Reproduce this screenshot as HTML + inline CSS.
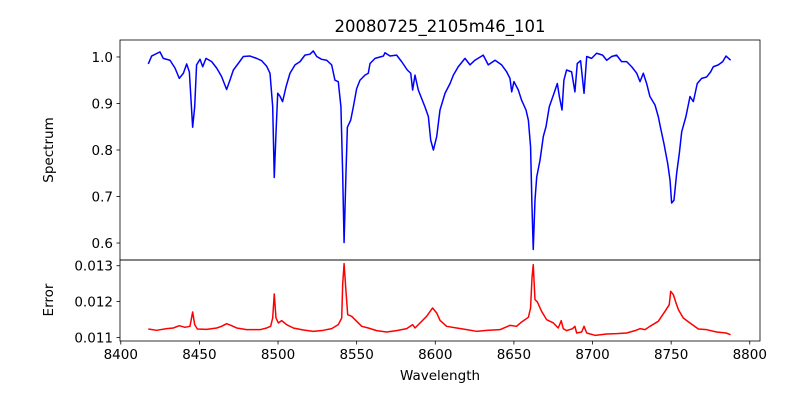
<!DOCTYPE html>
<html><head><meta charset="utf-8"><style>
html,body{margin:0;padding:0;background:#fff;}
svg{display:block;font-family:"DejaVu Sans","Liberation Sans",sans-serif;}
</style></head><body>
<svg id="chart" width="800" height="400" viewBox="0 0 800 400">
<rect width="800" height="400" fill="#fff"/>
<text x="440" y="32" text-anchor="middle" font-size="16.5">20080725_2105m46_101</text>
<text transform="translate(53,150) rotate(-90)" text-anchor="middle" font-size="13.5">Spectrum</text>
<text transform="translate(53,300) rotate(-90)" text-anchor="middle" font-size="13.5">Error</text>
<text x="440" y="380" text-anchor="middle" font-size="13.5">Wavelength</text>
<g id="topg"></g><g id="botg"></g><g id="xt"></g>
</svg>
<script>
const specWave=[8417.5,8419.6,8424.9,8427.0,8431.3,8434.5,8437.2,8439.8,8441.9,8443.6,8445.7,8447.0,8448.2,8450.4,8452.1,8454.2,8457.8,8461.0,8464.1,8467.3,8469.4,8471.6,8474.7,8477.9,8482.2,8486.4,8489.6,8492.8,8494.9,8496.6,8497.6,8498.7,8499.8,8501.2,8502.9,8505.1,8507.6,8510.8,8514.0,8517.1,8520.3,8522.4,8524.6,8527.7,8530.9,8534.1,8536.2,8538.3,8540.0,8541.1,8542.0,8543.2,8544.1,8546.2,8547.9,8550.0,8552.1,8555.3,8557.4,8558.5,8561.7,8567.0,8568.0,8571.2,8575.4,8578.6,8582.2,8584.4,8585.6,8587.1,8589.2,8591.3,8593.4,8595.6,8597.1,8598.8,8600.9,8603.0,8606.2,8609.4,8611.5,8614.6,8618.9,8622.1,8625.2,8630.5,8633.7,8638.0,8642.2,8645.4,8647.5,8648.6,8650.0,8652.8,8654.9,8657.7,8659.2,8660.6,8661.5,8662.3,8663.4,8664.5,8666.6,8668.7,8670.4,8672.5,8675.1,8677.6,8678.9,8680.6,8681.8,8683.5,8686.7,8688.8,8690.3,8692.4,8694.6,8696.3,8699.4,8702.6,8706.4,8709.0,8712.2,8715.3,8718.5,8721.7,8724.9,8728.1,8730.2,8732.3,8734.4,8736.5,8739.7,8741.8,8743.3,8745.4,8747.8,8749.3,8750.3,8751.8,8753.5,8755.2,8756.7,8759.4,8762.0,8764.1,8766.6,8769.4,8772.6,8775.1,8776.8,8780.0,8782.8,8784.9,8787.8];
const specFlux=[.985,1.002,1.011,.997,.993,.976,.954,.965,.985,.968,.849,.893,.983,.995,.979,.997,.990,.976,.958,.930,.950,.972,.986,1.001,1.002,.997,.992,.980,.965,.893,.741,.836,.922,.916,.904,.936,.965,.983,.990,1.004,1.006,1.013,1.001,.995,.993,.983,.950,.947,.893,.750,.601,.750,.849,.864,.893,.932,.950,.961,.965,.986,.997,1.002,1.009,1.002,1.004,.990,.972,.965,.929,.961,.929,.911,.893,.872,.821,.800,.829,.886,.922,.943,.961,.979,.997,.983,.993,1.004,.983,.993,.983,.968,.954,.925,.947,.929,.907,.886,.864,.807,.678,.586,.692,.742,.778,.829,.850,.893,.918,.943,.915,.886,.950,.972,.968,.925,.986,.992,.922,1.001,.997,1.008,1.004,.993,1.001,1.004,.990,.990,.979,.965,.947,.965,.943,.915,.897,.872,.847,.814,.771,.735,.686,.692,.750,.793,.839,.872,.915,.904,.943,.954,.957,.968,.979,.983,.990,1.002,.993];
const errWave=[8417.5,8422.8,8429.2,8433.4,8437.2,8440.8,8444.0,8445.7,8447.0,8448.7,8454.6,8461.0,8464.1,8467.3,8470.5,8473.7,8480.0,8488.5,8492.8,8495.3,8496.6,8497.6,8498.7,8500.2,8502.3,8505.5,8509.7,8516.1,8522.4,8528.8,8534.1,8538.3,8540.5,8541.1,8542.0,8543.2,8544.3,8546.8,8550.0,8553.2,8557.4,8562.7,8569.1,8575.4,8581.8,8585.6,8587.1,8590.3,8594.5,8598.3,8600.9,8603.0,8607.2,8613.6,8620.0,8626.3,8632.7,8641.1,8647.5,8651.7,8654.9,8659.2,8660.6,8661.5,8662.3,8663.4,8664.9,8667.6,8670.8,8675.1,8678.2,8680.1,8681.4,8683.5,8687.3,8688.8,8689.9,8693.1,8694.6,8696.3,8701.6,8709.0,8715.3,8721.7,8727.0,8730.2,8733.4,8736.5,8741.8,8746.1,8748.8,8749.7,8751.4,8753.1,8754.6,8757.7,8762.0,8767.3,8772.6,8778.9,8784.9,8787.8];
const errVals=[.011235,.011198,.011244,.011263,.011328,.011282,.01131,.01171,.011356,.011235,.011226,.011263,.01131,.011384,.011328,.011263,.011216,.011216,.011263,.01131,.011542,.012212,.011542,.011403,.011468,.011356,.011263,.011207,.01117,.011198,.011244,.011356,.011542,.012472,.013058,.012286,.011635,.011589,.011449,.01131,.011263,.011189,.011151,.011189,.011244,.011356,.011263,.011403,.011589,.011821,.011682,.011477,.01131,.011263,.011216,.01117,.011198,.011216,.011337,.01131,.011431,.011561,.011821,.012658,.01303,.012054,.011989,.011728,.011496,.011403,.011263,.011468,.011244,.011189,.011244,.01131,.011123,.011151,.01131,.011123,.011058,.011095,.011105,.011123,.011189,.011244,.011216,.01131,.011449,.011728,.011914,.012286,.012193,.011961,.011775,.011542,.011403,.011235,.011216,.011151,.011123,.011077];
const xTicks=[8400,8450,8500,8550,8600,8650,8700,8750,8800];
const specTicks=[0.6,0.7,0.8,0.9,1.0];
const errTicks=[0.011,0.012,0.013];

const NS="http://www.w3.org/2000/svg";
const L=120,R=760;
const xMin=8399.5,xMax=8806.5;
const X=v=>L+(v-xMin)/(xMax-xMin)*(R-L);
const topAx={t:40,b:260,min:0.5635,max:1.0365};
const botAx={t:260,b:341,min:0.01090,max:0.01316};
const Y=(a,v)=>a.b-(v-a.min)/(a.max-a.min)*(a.b-a.t);
function mk(tag,attrs,parent){const e=document.createElementNS(NS,tag);for(const k in attrs)e.setAttribute(k,attrs[k]);parent.appendChild(e);return e;}
function panel(g,a,wave,vals,color,ticks,fmt,nm){
  const p=wave.map((w,i)=>X(w).toFixed(2)+","+Y(a,vals[i]).toFixed(2)).join(" ");
  const line=mk("polyline",{points:p,fill:"none",stroke:color,"stroke-width":1.5,"stroke-linejoin":"round"},g);
  
  
  ticks.forEach(t=>{
    const y=Y(a,t);
    const tk=mk("line",{x1:L-3.5,x2:L,y1:y,y2:y,stroke:"#000","stroke-width":0.8},g);
    
    
    const tx=mk("text",{x:L-7,y:y+5,"text-anchor":"end","font-size":13.5},g);
    tx.textContent=fmt(t);
    
    
  });
  const fr=mk("rect",{x:L,y:a.t,width:R-L,height:a.b-a.t,fill:"none",stroke:"#000","stroke-width":0.8},g);
  
  
}
panel(document.getElementById("topg"),topAx,specWave,specFlux,"#0000ff",specTicks,t=>t.toFixed(1),"spectrum");
panel(document.getElementById("botg"),botAx,errWave,errVals,"#ff0000",errTicks,t=>t.toFixed(3),"error");
const xg=document.getElementById("xt");
xTicks.forEach(t=>{
  const x=X(t);
  const tk=mk("line",{x1:x,x2:x,y1:341,y2:344.5,stroke:"#000","stroke-width":0.8},xg);
  
  
  const tx=mk("text",{x:x,y:359,"text-anchor":"middle","font-size":13.5},xg);
  tx.textContent=t;
  
  
});
</script>
</body></html>
